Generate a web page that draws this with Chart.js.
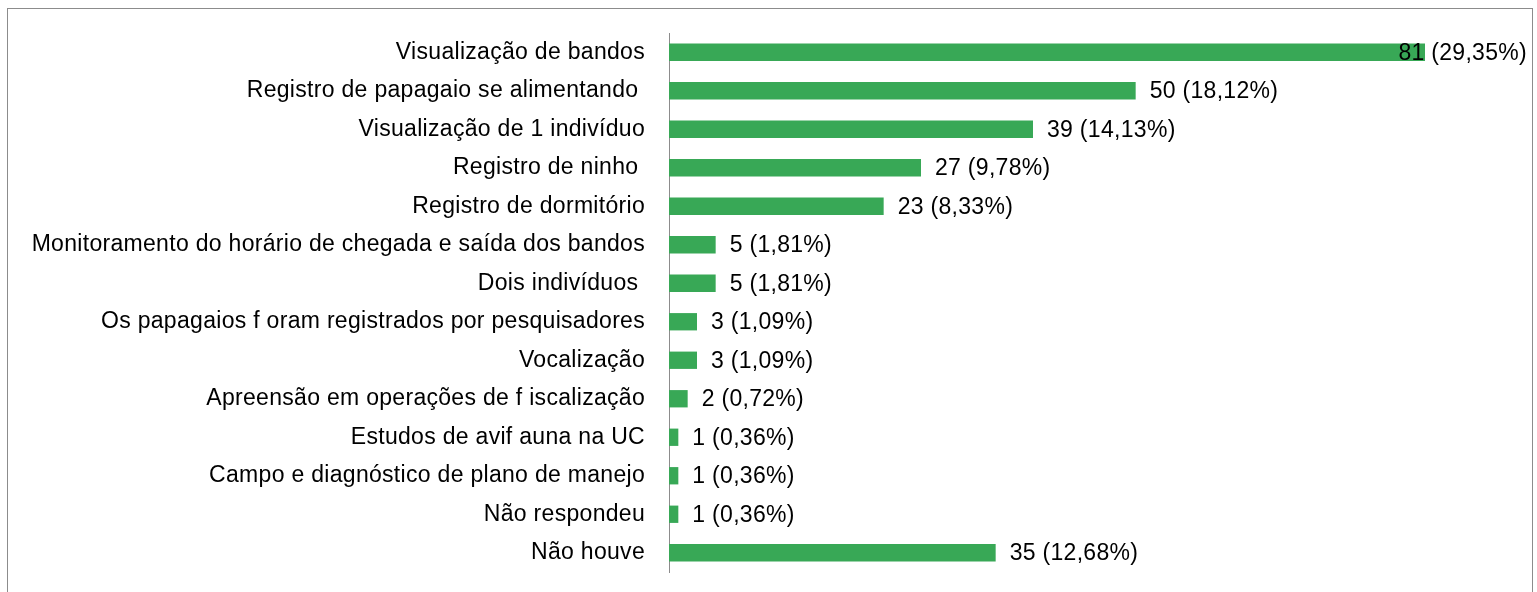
<!DOCTYPE html>
<html>
<head>
<meta charset="utf-8">
<script src="https://cdn.jsdelivr.net/npm/chart.js@4.4.1/dist/chart.umd.min.js"></script>
<style>
  html, body { margin: 0; padding: 0; background: #fff; overflow: hidden; }
  #frame { position: absolute; left: 7px; top: 8px; width: 1524px; height: 600px; border: 1px solid #8c8c8c; }
  #wrap { position: absolute; left: 0; top: 0; width: 1537px; height: 592px; }
</style>
</head>
<body>
<div id="frame"></div>
<div id="wrap"><canvas id="myChart"></canvas></div>
<script>
// dados do grafico
const categorias = [
  'Visualização de bandos',
  'Registro de papagaio se alimentando ',
  'Visualização de 1 indivíduo',
  'Registro de ninho ',
  'Registro de dormitório',
  'Monitoramento do horário de chegada e saída dos bandos',
  'Dois indivíduos ',
  'Os papagaios f oram registrados por pesquisadores',
  'Vocalização',
  'Apreensão em operações de f iscalização',
  'Estudos de avif auna na UC',
  'Campo e diagnóstico de plano de manejo',
  'Não respondeu',
  'Não houve'
];
const valores = [81, 50, 39, 27, 23, 5, 5, 3, 3, 2, 1, 1, 1, 35];
const percentuais = ['29,35%', '18,12%', '14,13%', '9,78%', '8,33%', '1,81%', '1,81%', '1,09%', '1,09%', '0,72%', '0,36%', '0,36%', '0,36%', '12,68%'];

const fonte = '"Liberation Sans", Arial, sans-serif';

// espacamento entre letras, parecido com o original
const espacamento = {
  id: 'espacamento',
  beforeDraw(chart) { chart.ctx.letterSpacing = '0.3px'; }
};

// rotulos no fim das barras
const rotulos = {
  id: 'rotulos',
  afterDatasetsDraw(chart) {
    const ctx = chart.ctx;
    const meta = chart.getDatasetMeta(0);
    ctx.save();
    ctx.font = '23px ' + fonte;
    ctx.fillStyle = '#000';
    ctx.textBaseline = 'middle';
    meta.data.forEach((bar, i) => {
      const txt = valores[i] + ' (' + percentuais[i] + ')';
      const w = ctx.measureText(txt).width;
      let x = bar.x + 14;
      if (x + w > 1527) x = 1527 - w;
      ctx.fillText(txt, x, bar.y + 1);
    });
    ctx.restore();
  }
};

const ctx1 = document.getElementById('myChart');

new Chart(ctx1, {
  type: 'bar',
  data: {
    labels: categorias,
    datasets: [{
      data: valores,
      backgroundColor: '#38a856',
      borderWidth: 0,
      barPercentage: 0.45,
      categoryPercentage: 1
    }]
  },
  options: {
    indexAxis: 'y',
    responsive: true,
    maintainAspectRatio: false,
    animation: false,
    layout: { padding: { top: 33, bottom: 20, right: 28, left: 0 } },
    plugins: { legend: { display: false }, tooltip: { enabled: false } },
    scales: {
      x: {
        display: false,
        min: 0,
        max: 90,
        grid: { display: false }
      },
      y: {
        afterFit(scale) {
          scale.width = 669;
          scale.paddingTop = 0;
          scale.paddingBottom = 0;
        },
        grid: { display: false, drawTicks: false },
        border: { display: true, color: '#8c8c8c', width: 1 },
        ticks: {
          color: '#000',
          padding: 24,
          font: { family: fonte, size: 23 }
        }
      }
    }
  },
  plugins: [espacamento, rotulos]
});
</script>
</body>
</html>
